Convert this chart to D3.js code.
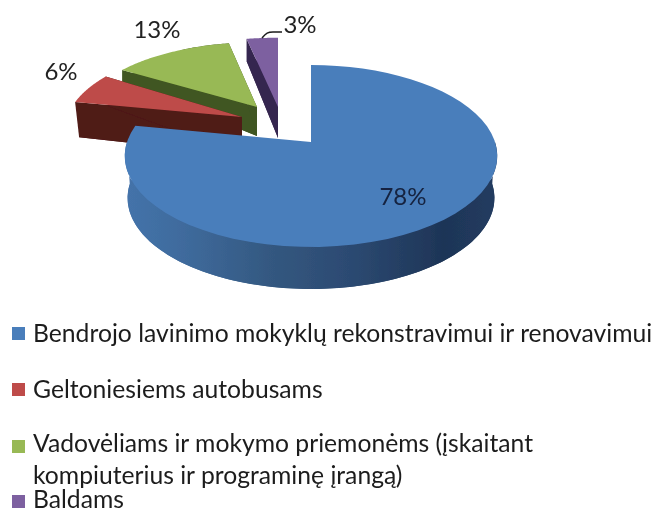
<!DOCTYPE html>
<html><head><meta charset="utf-8">
<script src="https://cdn.jsdelivr.net/npm/d3@7/dist/d3.min.js"></script>
<style>html,body{margin:0;background:#fff}svg{display:block}text{font-family:Lato,sans-serif}</style>
</head><body><svg id="c" width="662" height="513"></svg>
<script>
const categories=["Bendrojo lavinimo mokyklų rekonstravimui ir renovavimui","Geltoniesiems autobusams","Vadovėliams ir mokymo priemonėms (įskaitant kompiuterius ir programinę įrangą)","Baldams"];
const values=[78,6,13,3];
const labels=["78%","6%","13%","3%"];
const topColors=["#4a7ebb","#be4b48","#98b954","#7d60a0"];
const wallColors=["#2f5078","#4f1a18","#3f5620","#362650"];
const apexX=[311,242,257,278];
const apexY=[142,117,107,107];
const scaleX=[1,.95,.94,1.05];
const scaleY=[1,.92,.84,.9];
const depth0=[42,38,29,31];
const depthSlope=[0,15,33,9];
const bottomInset=[.985,.976,1,1];
const labelX=[403,61,157,300];
const labelY=[205,80,38,33];
const legendLines=[[categories[0]],[categories[1]],["Vadovėliams ir mokymo priemonėms (įskaitant","kompiuterius ir programinę įrangą)"],[categories[3]]];
const legendY=[[342],[398],[452,484],[508]];
const legendSwatchY=[327,383,440,495];

const svg=d3.select("#c");
const defs=svg.append("defs");
const blur=defs.append("filter").attr("id","soft");
blur.append("feGaussianBlur").attr("stdDeviation",.45);
const grad=defs.append("linearGradient").attr("id","wall").attr("gradientUnits","userSpaceOnUse")
  .attr("x1",126).attr("x2",499).attr("y1",0).attr("y2",0);
[[0,"#4473aa"],[.15,"#3f6b9d"],[.4,"#33577f"],[.6,"#2c4a72"],[.85,"#1e3557"],[1,"#223c60"]]
  .forEach(([o,c])=>grad.append("stop").attr("offset",o).attr("stop-color",c));

const R=184,b=-.154,A=88.8;
const pie=d3.pie().sort(null).value(d=>d)(values);
function project(i,theta,r,low){
  const u=Math.sin(theta)*r,v=-Math.cos(theta)*r,w=1+b*v;
  let dx=R*u/w*scaleX[i],dy=A*v/w*scaleY[i];
  if(low){dx*=bottomInset[i];dy+=Math.max(0,depth0[i]+depthSlope[i]*v);}
  return [apexX[i]+dx,apexY[i]+dy];
}
const line=d3.line();
function sector(i,low){
  const p=pie[i],pts=[project(i,0,0,low)];
  d3.range(0,61).forEach(k=>pts.push(project(i,p.startAngle+(p.endAngle-p.startAngle)*k/60,1,low)));
  return line(pts)+"Z";
}
function radialWall(i,theta){
  return line([project(i,theta,0,false),project(i,theta,1,false),project(i,theta,1,true),project(i,theta,0,true)])+"Z";
}
const g=svg.append("g").attr("filter","url(#soft)");
[2,3,1,0].forEach(i=>{
  const fill=i===0?"url(#wall)":wallColors[i];
  if(i===0){
    const arc=[];d3.range(0,121).forEach(k=>arc.push(project(0,Math.PI/2+Math.PI*k/120,1,false)));
    const low=[];d3.range(120,-1,-1).forEach(k=>low.push(project(0,Math.PI/2+Math.PI*k/120,1,true)));
    g.append("path").attr("d",sector(0,true)).attr("fill",fill);
    g.append("path").attr("d",line(arc.concat(low))+"Z").attr("fill",fill);
  }else{
    g.append("path").attr("d",sector(i,true)).attr("fill",fill);
    g.append("path").attr("d",radialWall(i,pie[i].startAngle)).attr("fill",fill);
    g.append("path").attr("d",radialWall(i,pie[i].endAngle)).attr("fill",fill);
  }
  g.append("path").attr("d",sector(i,false)).attr("fill",topColors[i]);
});
g.append("path").attr("d","M262 38C266 33 268 32 273 32L282 32").attr("fill","none").attr("stroke","#1a1a1a").attr("stroke-width",1.5);
labels.forEach((t,i)=>g.append("text").attr("x",labelX[i]).attr("y",labelY[i]).attr("text-anchor","middle")
  .attr("font-size",24).attr("fill",i===0?"#14233f":"#222").text(t));
legendLines.forEach((ls,i)=>{
  g.append("rect").attr("x",12).attr("y",legendSwatchY[i]).attr("width",13).attr("height",13).attr("fill",topColors[i]);
  ls.forEach((t,j)=>g.append("text").attr("x",33).attr("y",legendY[i][j]).attr("font-size",24.7).attr("fill","#1c1c1c").text(t));
});
</script></body></html>
